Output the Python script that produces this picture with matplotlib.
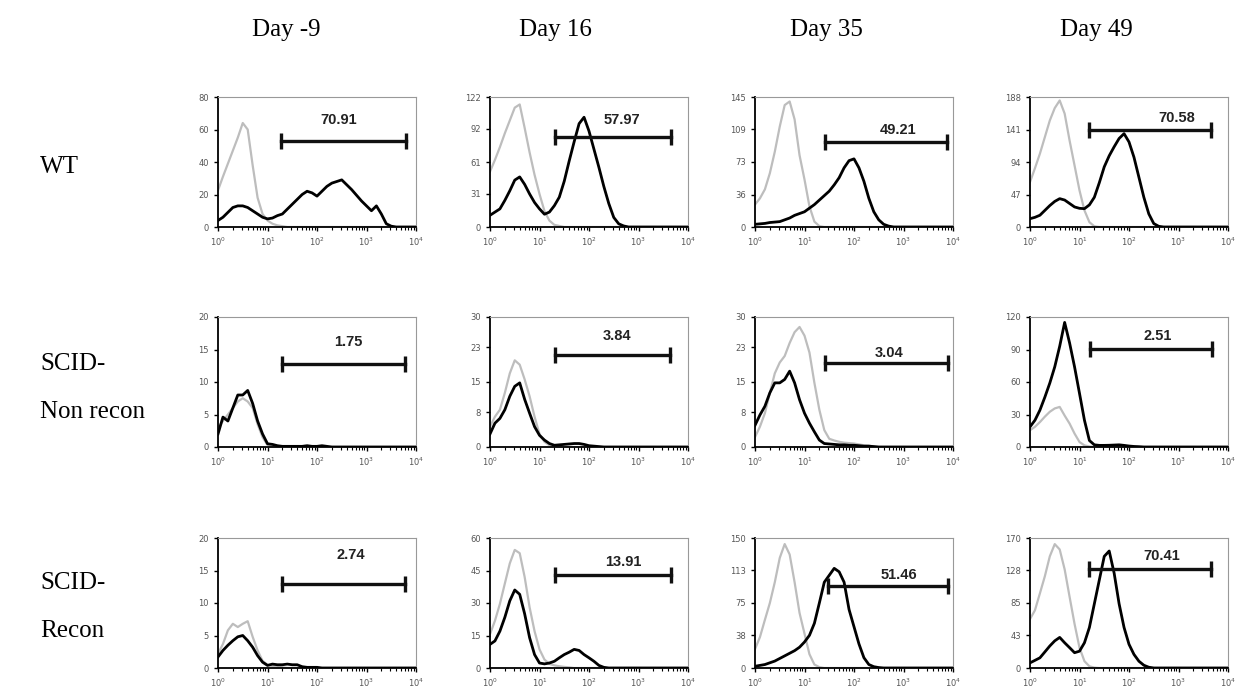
import matplotlib.pyplot as plt
from matplotlib.ticker import NullFormatter, FixedLocator, LogLocator

# channel bins (log10 of fluorescence), step 0.1 from 10^0 to 10^4
bins_log = [0.0, 0.1, 0.2, 0.3, 0.4, 0.5, 0.6, 0.7, 0.8, 0.9,
            1.0, 1.1, 1.2, 1.3, 1.4, 1.5, 1.6, 1.7, 1.8, 1.9,
            2.0, 2.1, 2.2, 2.3, 2.4, 2.5, 2.6, 2.7, 2.8, 2.9,
            3.0, 3.1, 3.2, 3.3, 3.4, 3.5, 3.6, 3.7, 3.8, 3.9, 4.0]

days = ["Day -9", "Day 16", "Day 35", "Day 49"]
groups = ["WT", "SCID-\n\nNon recon", "SCID-\n\nRecon"]

# isotype control (gray) counts; tail is zero
iso_wt = [
    [22.6, 31, 39, 47, 55, 64, 60, 38, 18, 8, 4, 2, 1, 0.5],
    [52, 63, 75, 88, 100, 112, 115, 93, 70, 49, 31, 15, 6, 2, 1],
    [25, 32, 42, 60, 84, 112, 136, 140, 120, 80, 53, 23, 6, 1],
    [65, 85, 106, 130, 154, 172, 183, 164, 125, 89, 53, 24, 7, 1],
]
iso_nonrecon = [
    [3, 4, 5, 6, 7, 7.5, 7, 6, 3.5, 1.5, 0.3, 0.1],
    [4.7, 7, 8.6, 12.5, 17, 20, 19, 15.6, 11.7, 7, 3, 1.2, 0.4, 0.2],
    [2.3, 4.7, 7.8, 12.5, 17, 19.5, 21, 24, 26.5, 27.7, 25.7, 21.8, 14.8,
     8.6, 3.9, 1.9, 1.5, 1.2, 1.0, 0.9, 0.8, 0.6, 0.4, 0.3, 0.1],
    [15.5, 18.6, 23, 28, 32.5, 35.6, 37, 29, 21.6, 12.4, 4.6, 1.5, 0.5],
]
iso_recon = [
    [2.2, 3.7, 5.8, 6.8, 6.3, 6.8, 7.2, 4.8, 2.7, 1.1, 0.5, 0.3, 0.2, 0.1],
    [15.6, 21.8, 29.6, 39, 48.3, 54.5, 53, 42, 28, 17, 8.6, 3.9, 1.9, 1.2,
     0.8, 0.5, 0.3],
    [21.8, 35.7, 55.6, 75, 99, 127, 143, 131, 99, 63.5, 39.7, 15.9, 4, 1],
    [64, 75.5, 97.6, 120, 146, 162, 155, 129, 93, 57.7, 26.6, 8.9, 2.2, 0.5],
]

# stained sample (black) counts
stain_wt = [
    [4, 6, 9, 12, 13, 13, 12, 10, 8, 6, 5, 5.5, 7, 8, 11, 14, 17, 20, 22, 21,
     19, 22, 25, 27, 28, 29, 26, 23, 19.5, 16, 13, 10, 13, 8, 2, 0.5],
    [11, 14, 17, 25, 34, 44, 47, 40, 31, 23, 17, 12, 14, 20, 28, 43, 62, 80,
     97, 103, 90, 73, 56, 38, 22, 9, 3, 1],
    [3, 3.5, 4, 5, 5.5, 6, 8, 10, 13, 15, 17, 21, 25, 30, 35, 40, 47, 55, 66,
     74, 76, 66, 51, 32, 17, 8, 3, 1],
    [12, 14, 17, 24, 31, 37, 41, 39, 34, 29, 27, 26.5, 32, 43, 64, 87, 103,
     116, 128, 135, 123, 101, 72, 43, 19, 5, 1],
]
stain_nonrecon = [
    [2, 4.6, 4, 6, 8, 8, 8.7, 6.7, 4, 2, 0.5, 0.4, 0.2, 0.1, 0.1, 0.1, 0.1,
     0.1, 0.2, 0.1, 0.1, 0.2, 0.1],
    [3, 5.5, 6.6, 8.6, 11.7, 14, 14.8, 11, 7.8, 4.7, 2.7, 1.6, 0.8, 0.4, 0.5,
     0.6, 0.7, 0.8, 0.8, 0.6, 0.3, 0.2, 0.1],
    [5, 7.4, 9.4, 12.5, 14.8, 14.8, 15.6, 17.5, 14.8, 10.9, 7.8, 5.5, 3.5,
     1.6, 0.8, 0.7, 0.6, 0.5, 0.5, 0.4, 0.4, 0.3, 0.2, 0.2, 0.1],
    [18.6, 24.7, 34, 46, 59, 74, 93, 115, 96, 74, 49.5, 24.7, 6, 2, 1.5, 1.5,
     1.6, 1.8, 2, 1.5, 0.9, 0.5, 0.3],
]
stain_recon = [
    [1.7, 2.7, 3.5, 4.2, 4.8, 5, 4.2, 3.2, 1.9, 0.9, 0.4, 0.6, 0.5, 0.5, 0.6,
     0.5, 0.5, 0.2, 0.1, 0.1, 0.1],
    [10.9, 12.5, 17, 23.4, 31, 36, 34, 25, 14, 6.2, 2.3, 1.9, 2.3, 3.1, 4.7,
     6.2, 7.3, 8.6, 8.1, 6.2, 4.7, 3.1, 1.2, 0.3],
    [2, 3, 4, 6, 8, 11, 14, 17, 20, 24, 30, 37.7, 51.6, 75, 99, 107, 115, 111,
     99, 67.5, 47.6, 27.8, 11.9, 4, 1.5, 0.5],
    [6.7, 10, 13.3, 21, 28.8, 35.5, 40, 33, 26.6, 20, 22, 33, 53, 84, 115, 146,
     153, 124, 84, 53, 31, 17.8, 8.9, 3.6, 1],
]

# y-axis tick values shown on each panel
yticks = [
    [[0, 20, 40, 60, 80], [0, 31, 61, 92, 122], [0, 36, 73, 109, 145], [0, 47, 94, 141, 188]],
    [[0, 5, 10, 15, 20], [0, 8, 15, 23, 30], [0, 8, 15, 23, 30], [0, 30, 60, 90, 120]],
    [[0, 5, 10, 15, 20], [0, 15, 30, 45, 60], [0, 38, 75, 113, 150], [0, 43, 85, 128, 170]],
]

# gate: (lower log10, upper log10, height, percent)
gates = [
    [(1.28, 3.79, 52.7, "70.91"), (1.31, 3.65, 84, "57.97"),
     (1.41, 3.87, 95, "49.21"), (1.20, 3.65, 140, "70.58")],
    [(1.29, 3.78, 12.8, "1.75"), (1.32, 3.63, 21.2, "3.84"),
     (1.42, 3.89, 19.5, "3.04"), (1.21, 3.68, 90.6, "2.51")],
    [(1.29, 3.78, 13.0, "2.74"), (1.31, 3.66, 42.9, "13.91"),
     (1.48, 3.90, 94.4, "51.46"), (1.20, 3.65, 129.6, "70.41")],
]
# where the percent label sits (log10 x, y)
label_pos = [
    [(2.43, 65.6), (2.66, 100), (2.89, 108), (2.97, 157)],
    [(2.63, 16.2), (2.57, 25.7), (2.70, 21.8), (2.58, 102.7)],
    [(2.68, 17.4), (2.69, 49), (2.91, 107), (2.67, 146.5)],
]

iso_all = [iso_wt, iso_nonrecon, iso_recon]
stain_all = [stain_wt, stain_nonrecon, stain_recon]

W, H = 1235, 694
fig = plt.figure(figsize=(W / 100, H / 100), dpi=100)

col_left = [218, 490, 755, 1030]
row_top = [97, 317, 538]
ax_w, ax_h = 198, 130

xs = [10 ** b for b in bins_log]


def pad(vals):
    return list(vals) + [0] * (len(bins_log) - len(vals))


for r in range(3):
    for c in range(4):
        ax = fig.add_axes([col_left[c] / W, 1 - (row_top[r] + ax_h) / H,
                           ax_w / W, ax_h / H])
        ax.plot(xs, pad(iso_all[r][c]), color="#bdbdbd", lw=1.6, zorder=2)
        ax.plot(xs, pad(stain_all[r][c]), color="black", lw=2.0, zorder=3)

        lo, hi, gy, pct = gates[r][c]
        ax.plot([10 ** lo, 10 ** hi], [gy, gy], color="#111111", lw=2.4,
                marker="|", ms=11, mew=2.4, zorder=4)
        lx, ly = label_pos[r][c]
        ax.text(10 ** lx, ly, pct, ha="center", va="center", fontsize=10.5,
                fontweight="bold", family="Liberation Sans", color="#222222")

        ax.set_xscale("log")
        ax.set_xlim(1, 1e4)
        ax.set_ylim(0, yticks[r][c][-1])
        ax.xaxis.set_major_locator(FixedLocator([1, 10, 100, 1000, 10000]))
        ax.set_xticklabels([r"$10^0$", r"$10^1$", r"$10^2$", r"$10^3$", r"$10^4$"])
        ax.xaxis.set_minor_locator(LogLocator(base=10, subs=range(2, 10)))
        ax.xaxis.set_minor_formatter(NullFormatter())
        ax.set_yticks(yticks[r][c])
        ax.tick_params(axis="both", which="major", labelsize=6,
                       labelcolor="#555555", length=3, width=1, direction="out")
        ax.tick_params(axis="x", which="minor", length=2, width=0.8)
        for s in ("left", "bottom"):
            ax.spines[s].set_color("black")
            ax.spines[s].set_linewidth(1.3)
        for s in ("top", "right"):
            ax.spines[s].set_color("#999999")
            ax.spines[s].set_linewidth(0.8)

# column titles and row labels
title_x = [286, 555, 826, 1096]
for d, x in zip(days, title_x):
    fig.text(x / W, 1 - 30 / H, d, ha="center", va="center",
             family="Liberation Serif", fontsize=18)

row_y = [167, 388, 607]
for g, y in zip(groups, row_y):
    fig.text(40 / W, 1 - y / H, g, ha="left", va="center",
             family="Liberation Serif", fontsize=18, linespacing=1.1)

fig.savefig("out.png", dpi=100)
